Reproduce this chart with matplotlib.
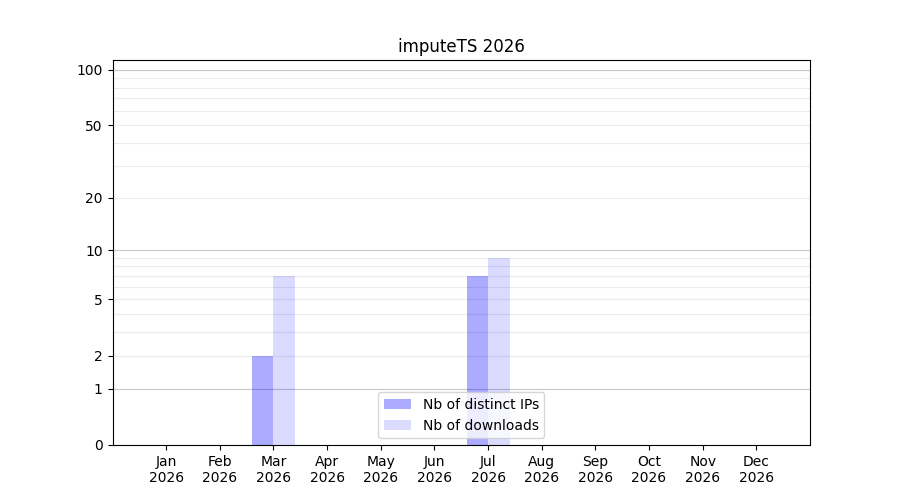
import matplotlib
matplotlib.use("Agg")
import matplotlib.pyplot as plt
import numpy as np

months = ["Jan", "Feb", "Mar", "Apr", "May", "Jun",
          "Jul", "Aug", "Sep", "Oct", "Nov", "Dec"]
year = "2026"
distinct_ips = [0, 0, 2, 0, 0, 0, 7, 0, 0, 0, 0, 0]
downloads = [0, 0, 7, 0, 0, 0, 9, 0, 0, 0, 0, 0]
yticks = [0, 1, 2, 5, 10, 20, 50, 100]
minor = [2, 3, 4, 5, 6, 7, 8, 9, 20, 30, 40, 50, 60, 70, 80, 90]
major_lines = [1, 10, 100]


def fwd(v):
    return np.log10(np.clip(v, 0, None) + 1)


def inv(v):
    return 10 ** v - 1


fig, ax = plt.subplots(figsize=(9, 5), dpi=100)
x = np.arange(len(months))
ax.bar(x, distinct_ips, width=-0.4, align='edge', color='blue', alpha=0.33,
       label='Nb of distinct IPs')
ax.bar(x, downloads, width=0.4, align='edge', color='blue', alpha=0.14,
       label='Nb of downloads')

ax.set_yscale('function', functions=(fwd, inv))
ax.set_ylim(0, 113)
ax.set_xlim(-1, 12)
ax.set_yticks(yticks)
ax.set_yticklabels([str(t) for t in yticks])
ax.set_yticks(minor, minor=True)
ax.yaxis.remove_overlapping_locs = False
ax.tick_params(axis='y', which='minor', length=0)
ax.grid(True, axis='y', which='minor', color='#ebebeb', linewidth=0.8)
for v in major_lines:
    ax.axhline(v, color='#c8c8c8', linewidth=0.8, zorder=0.5)
ax.set_axisbelow(True)

ax.set_xticks(x)
ax.set_xticklabels([m + "\n" + year for m in months])
ax.set_title('imputeTS ' + year)
ax.legend(loc='lower center')

plt.savefig('out.png')
